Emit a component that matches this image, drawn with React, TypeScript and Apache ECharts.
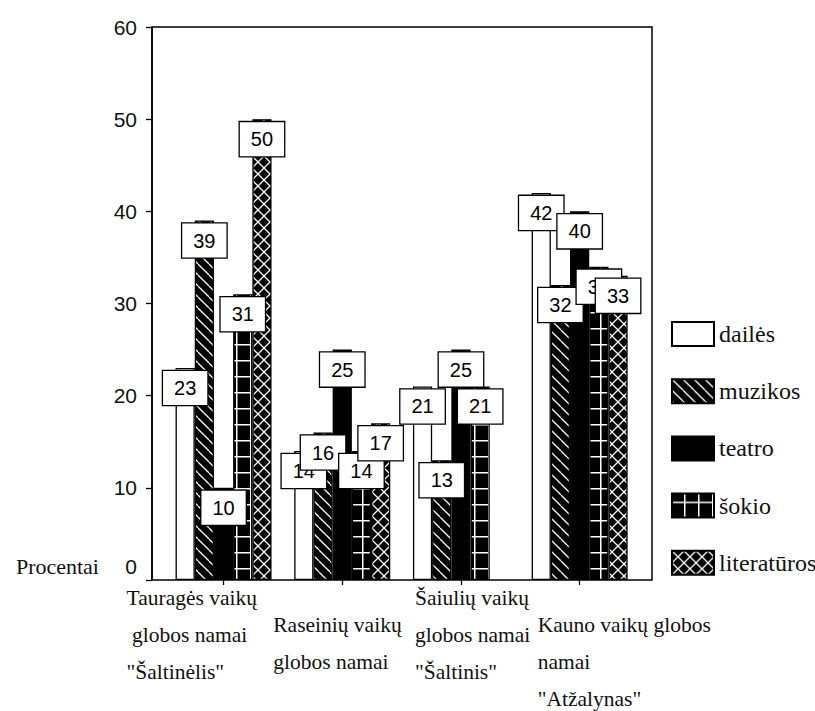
import React, { useEffect, useRef } from "react";
import * as echarts from "echarts";

const categories = [
  'Tauragės vaikų\n globos namai\n"Šaltinėlis"',
  "Raseinių vaikų\nglobos namai",
  'Šaiulių vaikų\nglobos namai\n"Šaltinis"',
  'Kauno vaikų globos\nnamai\n"Atžalynas"',
];
const seriesNames = ["dailės", "muzikos", "teatro", "šokio", "literatūros"];
const dailes = [23, 14, 21, 42];
const muzikos = [39, 16, 13, 32];
const teatro = [10, 25, 25, 40];
const sokio = [31, 14, 21, 34];
const literaturos = [50, 17, null, 33];

const SERIF = "Liberation Serif";
const SANS = "Liberation Sans";

function makePattern(w: number, h: number, draw: (ctx: CanvasRenderingContext2D, w: number, h: number) => void) {
  const c = document.createElement("canvas");
  c.width = w;
  c.height = h;
  const ctx = c.getContext("2d") as CanvasRenderingContext2D;
  ctx.fillStyle = "#000";
  ctx.fillRect(0, 0, w, h);
  ctx.strokeStyle = "#fff";
  ctx.fillStyle = "#fff";
  draw(ctx, w, h);
  return { image: c, repeat: "repeat", imageWidth: w, imageHeight: h };
}

export default function App() {
  const ref = useRef<HTMLDivElement>(null);
  useEffect(() => {
    if (!ref.current) return;
    const chart = echarts.init(ref.current, null, { renderer: "svg" });

    const diag = makePattern(11, 11, (ctx, w, h) => {
      ctx.lineWidth = 1.3;
      for (let k = -1; k <= 1; k++) {
        ctx.beginPath();
        ctx.moveTo(k * w, 0);
        ctx.lineTo(k * w + w, h);
        ctx.stroke();
      }
    });
    const grid = makePattern(14, 16, (ctx, w, h) => {
      ctx.fillRect(12, 0, 1.5, h);
      ctx.fillRect(0, 8, w, 1.5);
    });
    const cross = makePattern(12, 12, (ctx, w, h) => {
      ctx.lineWidth = 1.3;
      for (let k = -1; k <= 1; k++) {
        ctx.beginPath();
        ctx.moveTo(k * w, 0);
        ctx.lineTo(k * w + w, h);
        ctx.moveTo(k * w + w, 0);
        ctx.lineTo(k * w, h);
        ctx.stroke();
      }
    });

    const fills: any[] = ["#fff", diag, "#000", grid, cross];
    const datas = [dailes, muzikos, teatro, sokio, literaturos];

    const series = seriesNames.map((name, i) => ({
      name,
      type: "bar",
      xAxisIndex: 0,
      yAxisIndex: 0,
      data: datas[i],
      barWidth: 19.2,
      barGap: "0%",
      itemStyle: { color: fills[i], borderColor: "#000", borderWidth: 1.3 },
      label: {
        show: true,
        position: "insideTop",
        distance: 3,
        color: "#000",
        fontFamily: SANS,
        fontSize: 20,
        lineHeight: 18,
        backgroundColor: "#fff",
        borderColor: "#000",
        borderWidth: 1.3,
        padding: [8, 11, 8, 11],
      },
      emphasis: { disabled: true },
    }));

    const labelWidths = [97, 69, 46, 42];
    const rich: any = {
      g: { width: 10, height: 27, lineHeight: 27, fontSize: 10 },
    };
    labelWidths.forEach((w, i) => {
      rich["c" + i] = {
        width: w,
        align: "left",
        fontFamily: SERIF,
        fontSize: 21.5,
        lineHeight: 37,
        color: "#111",
      };
    });

    chart.setOption({
      animation: false,
      backgroundColor: "#fff",
      grid: [
        { left: 164.2, top: 27, width: 474.8, height: 553 },
        {
          left: 152,
          top: 27,
          width: 500,
          height: 553,
          show: true,
          borderColor: "#000",
          borderWidth: 1.5,
          backgroundColor: "transparent",
        },
      ],
      legend: {
        orient: "vertical",
        left: 666,
        top: 316,
        itemWidth: 42,
        itemHeight: 24,
        itemGap: 31.2,
        icon: "rect",
        selectedMode: false,
        textStyle: { fontFamily: SERIF, fontSize: 24, color: "#111", lineHeight: 24 },
        data: seriesNames,
      },
      xAxis: [
        {
          type: "category",
          gridIndex: 0,
          data: categories,
          axisLine: { show: false },
          axisTick: { show: true, alignWithLabel: true, length: 5, lineStyle: { color: "#000", width: 1.3 } },
          axisLabel: {
            interval: 0,
            align: "right",
            verticalAlign: "top",
            margin: -1,
            fontFamily: SERIF,
            formatter: (value: string, index: number) => {
              const lines = value.split("\n").map((l) => `{c${index}|${l}}`);
              return (index % 2 === 1 ? "{g| }\n" : "") + lines.join("\n");
            },
            rich,
          },
        },
        { type: "value", gridIndex: 1, show: false },
      ],
      yAxis: [
        {
          type: "value",
          gridIndex: 0,
          min: 0,
          max: 60,
          interval: 10,
          offset: 12.2,
          axisLine: { show: true, lineStyle: { color: "#000", width: 1.5 } },
          axisTick: { show: true, length: 6, lineStyle: { color: "#000", width: 1.3 } },
          splitLine: { show: false },
          axisLabel: {
            margin: 15,
            color: "#111",
            fontFamily: SANS,
            fontSize: 21,
            formatter: (v: number) => (v === 0 ? "{z|0}" : String(v)),
            rich: {
              z: { fontFamily: SANS, fontSize: 21, color: "#111", padding: [0, 0, 28, 0] },
            },
          },
          name: "Procentai",
          nameLocation: "start",
          nameGap: -14,
          nameTextStyle: {
            fontFamily: SERIF,
            fontSize: 22,
            color: "#111",
            align: "right",
            verticalAlign: "middle",
            padding: [0, 53, 0, 0],
          },
        },
        { type: "value", gridIndex: 1, show: false },
      ],
      series,
    });
    return () => chart.dispose();
  }, []);
  return (
    <div
      ref={ref}
      style={{ position: "absolute", left: 0, top: 0, width: 815, height: 711 }}
    />
  );
}
